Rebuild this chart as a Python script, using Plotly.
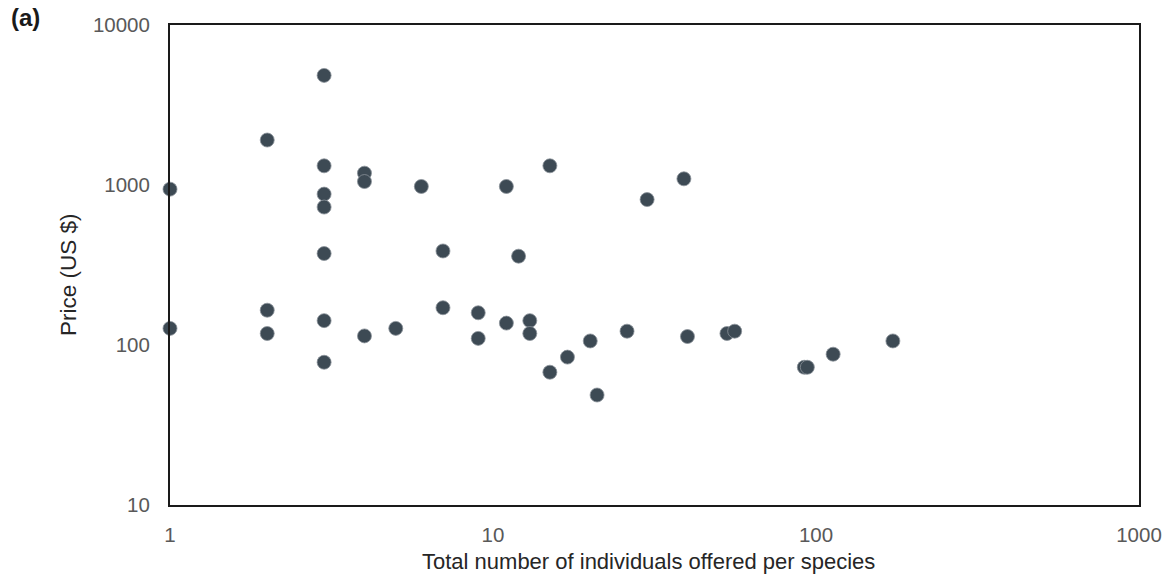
import plotly.graph_objects as go

individuals = [1, 1, 2, 2, 2, 3, 3, 3, 3, 3, 3, 3, 4, 4, 4, 5, 6, 7, 7, 9, 9,
               11, 11, 12, 13, 13, 15, 15, 17, 20, 21, 26, 30, 39, 40, 53, 56,
               92, 94, 113, 173]
price = [942, 127, 1910, 165, 118, 4840, 1318, 877, 728, 373, 142, 78, 1186,
         1051, 114, 127, 979, 387, 171, 159, 110, 979, 137, 359, 142, 118,
         1318, 67.6, 84, 106, 48.7, 122, 811, 1093, 113, 118, 122, 72.6,
         72.6, 87.6, 106]

x_ticks = [1, 10, 100, 1000]
y_ticks = [10, 100, 1000, 10000]

fig = go.Figure()
fig.add_trace(go.Scatter(
    x=individuals, y=price, mode="markers", cliponaxis=False,
    marker=dict(size=14, color="#3d4a54", line=dict(width=0.8, color="#8a9299")),
    showlegend=False,
))

font = "Liberation Sans, Arial, sans-serif"
fig.update_layout(
    width=1165, height=580, autosize=False,
    margin=dict(l=170, r=26, t=25, b=75),
    paper_bgcolor="white", plot_bgcolor="white",
    font=dict(family=font, size=20.5, color="#595959"),
    xaxis=dict(type="log", range=[0, 3], tickvals=x_ticks,
               ticktext=[str(v) for v in x_ticks], automargin=False,
               showgrid=False, zeroline=False, ticks="",
               showline=True, linecolor="#1a1a1a", linewidth=2, mirror=True,
               ticklabelstandoff=10),
    yaxis=dict(type="log", range=[1, 4], tickvals=y_ticks,
               ticktext=[str(v) for v in y_ticks], automargin=False,
               showgrid=False, zeroline=False, ticks="",
               showline=True, linecolor="#1a1a1a", linewidth=2, mirror=True,
               ticklabelstandoff=14),
)
fig.add_annotation(text="Total number of individuals offered per species",
                   xref="paper", yref="paper", x=0.4933, y=-0.117,
                   xanchor="center", yanchor="middle", showarrow=False,
                   font=dict(size=22, color="#262626", family=font))
fig.add_annotation(text="Price (US $)", textangle=-90,
                   xref="paper", yref="paper", x=-0.1053, y=0.481,
                   xanchor="center", yanchor="middle", showarrow=False,
                   font=dict(size=22.5, color="#262626", family=font))
fig.add_annotation(text="<b>(a)</b>", xref="paper", yref="paper",
                   x=-0.166, y=1.015, xanchor="left", yanchor="middle",
                   showarrow=False,
                   font=dict(size=24, color="#1a1a1a", family=font))

fig.write_html("out.html")
